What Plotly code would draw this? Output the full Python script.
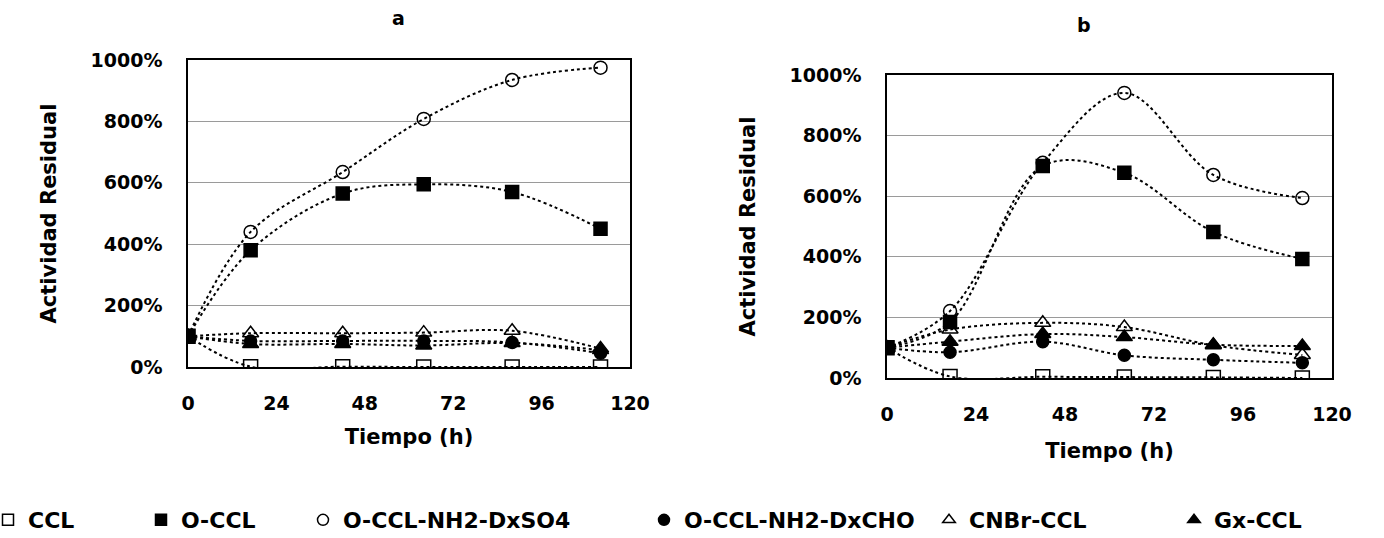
import plotly.graph_objects as go

W, H = 1384, 538

# ---- data ----
tiempo = [0, 17, 42, 64, 88, 112]
series_names = ["CCL", "O-CCL", "O-CCL-NH2-DxSO4", "O-CCL-NH2-DxCHO", "CNBr-CCL", "Gx-CCL"]

a_ccl = [100, 1, 1, 0, 0, 0]
a_occl = [100, 380, 565, 595, 570, 450]
a_dxso4 = [100, 440, 635, 808, 935, 975]
a_dxcho = [100, 85, 85, 85, 80, 45]
a_cnbr = [100, 110, 110, 112, 118, 60]
a_gx = [100, 75, 75, 70, 78, 55]

b_ccl = [100, 5, 4, 3, 2, 0]
b_occl = [100, 185, 700, 677, 482, 393]
b_dxso4 = [100, 221, 710, 941, 670, 594]
b_dxcho = [100, 85, 120, 75, 60, 50]
b_cnbr = [100, 160, 182, 168, 108, 76]
b_gx = [100, 120, 145, 135, 110, 106]

x_ticks = [0, 24, 48, 72, 96, 120]
y_ticks = [0, 200, 400, 600, 800, 1000]
y_ticklabels = [f"{v}%" for v in y_ticks]

# ---- styles ----
FONT = "DejaVu Sans"
symbols = ["square-open", "square", "circle-open", "circle", "triangle-up-open", "triangle-up"]
sizes = [14, 13, 13, 12, 14, 14]

panel_a = [a_ccl, a_occl, a_dxso4, a_dxcho, a_cnbr, a_gx]
panel_b = [b_ccl, b_occl, b_dxso4, b_dxcho, b_cnbr, b_gx]

fig = go.Figure()

def add_panel(data, xa, ya):
    for name, vals, sym, sz in zip(series_names, data, symbols, sizes):
        fig.add_trace(go.Scatter(
            x=tiempo, y=vals, mode="lines+markers", name=name,
            xaxis=xa, yaxis=ya, showlegend=False,
            line=dict(color="black", width=2, dash="dot", shape="spline", smoothing=1),
            marker=dict(symbol=sym, size=sz, color="black",
                        line=dict(color="black", width=1.5)),
        ))

add_panel(panel_a, "x", "y")
add_panel(panel_b, "x2", "y2")

# legend-only entries (marker only), each in its own legend
legend_left = [-12, 141, 303, 644, 929, 1174]
for i, (name, sym) in enumerate(zip(series_names, symbols)):
    lg = "legend" if i == 0 else f"legend{i+1}"
    fig.add_trace(go.Scatter(
        x=[None], y=[None], mode="markers", name=name, legend=lg,
        marker=dict(symbol=sym, size=11, color="black", line=dict(color="black", width=1.5)),
    ))

legend_common = dict(orientation="h", yanchor="middle", xanchor="left",
                     y=(H - 520) / H, itemwidth=30, bgcolor="rgba(0,0,0,0)",
                     font=dict(family=FONT, size=22, color="black", weight="bold"),
                     tracegroupgap=0)
layout_legends = {}
for i, lx in enumerate(legend_left):
    key = "legend" if i == 0 else f"legend{i+1}"
    layout_legends[key] = dict(legend_common, x=lx / W)

tick_font = dict(family=FONT, size=19, color="black", weight="bold")
title_font = dict(family=FONT, size=21, color="black", weight="bold")

def xaxis(domain, anchor, standoff):
    return dict(domain=domain, anchor=anchor, range=[0, 120], tickvals=x_ticks,
                showgrid=False, zeroline=False, showline=True, linecolor="black",
                linewidth=1.5, mirror=True, ticks="", tickfont=tick_font,
                ticklabelstandoff=18, automargin=False,
                title=dict(text="Tiempo (h)", font=title_font, standoff=standoff))

def yaxis(domain, anchor):
    return dict(domain=domain, anchor=anchor, range=[0, 1000], tickvals=y_ticks,
                ticktext=y_ticklabels, showgrid=True, gridcolor="#9a9a9a", gridwidth=1,
                zeroline=False, showline=True, linecolor="black", linewidth=1.5,
                mirror=True, ticks="", tickfont=tick_font, ticklabelstandoff=20,
                automargin=False,
                title=dict(text="Actividad Residual", font=title_font, standoff=28))

fig.update_layout(
    width=W, height=H, margin=dict(l=0, r=0, t=0, b=0, autoexpand=False),
    paper_bgcolor="white", plot_bgcolor="white",
    xaxis=xaxis([188 / W, 630 / W], "y", 17),
    yaxis=yaxis([(H - 367) / H, (H - 60) / H], "x"),
    xaxis2=xaxis([887 / W, 1332 / W], "y2", 20),
    yaxis2=yaxis([(H - 378) / H, (H - 75) / H], "x2"),
    annotations=[
        dict(text="a", x=390 / W, y=(H - 18) / H, xref="paper", yref="paper",
             yanchor="middle", showarrow=False,
             font=dict(family=FONT, size=19, color="black", weight="bold")),
        dict(text="b", x=1093 / W, y=(H - 25) / H, xref="paper", yref="paper",
             yanchor="middle", showarrow=False,
             font=dict(family=FONT, size=19, color="black", weight="bold")),
    ],
    **layout_legends,
)

fig.write_html("out.html")
